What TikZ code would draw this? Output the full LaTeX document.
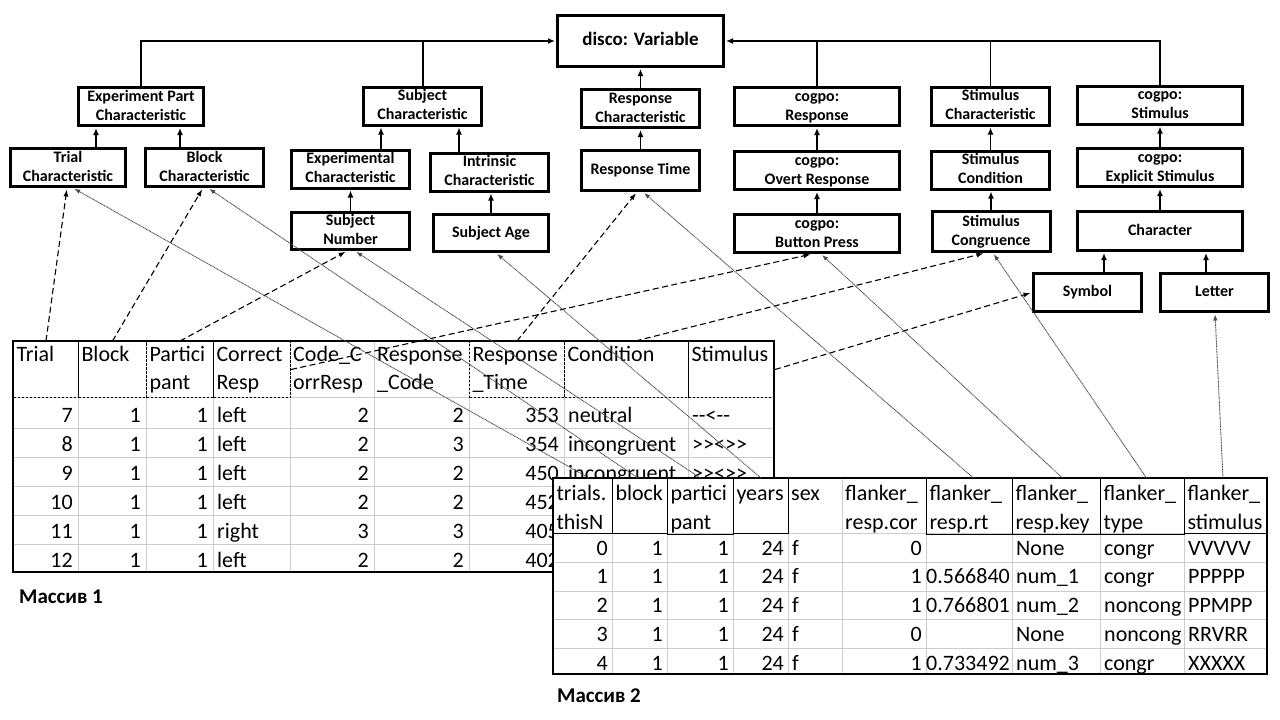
\documentclass[tikz,border=0pt]{standalone}
\usepackage{fontspec}
\newfontfamily\carl{Carlito}
\usetikzlibrary{arrows.meta,positioning}
\newcommand\strutA{\rule[-7pt]{0pt}{26pt}}
\newcommand\strutB{\rule[-3pt]{0pt}{24pt}}

\begin{document}
\begin{tikzpicture}
	[
		x=1pt, y=-1pt,
		C/.style = {rectangle, align=center, draw, line width=3pt, minimum height=38pt, inner sep=1pt, text height=31pt, text depth=4pt, font=\carl\bfseries\fontsize{16}{19}\selectfont},
		C1/.style = {C, text height=12pt},
		V/.style = {C, minimum width=166pt, minimum height=51pt, text height=14pt, text depth=5pt, font=\carl\bfseries\fontsize{19}{23}\selectfont},
		A/.style = {-{Latex[length=7pt,width=6pt]}, line width=1.8pt, shorten >=1pt},
		H/.style = {rectangle, anchor=north west, align=left, inner xsep=3pt, inner ysep=1pt, font=\carl\fontsize{22}{28}\selectfont},
		HD/.style = {H, draw, line width=1pt, dash pattern=on 2.5pt off 1.5pt},
		K/.style = {H, font=\carl\fontsize{22}{29}\selectfont},
		KD/.style = {K, draw, line width=1pt},
		R/.style = {anchor=base east, inner sep=0pt, font=\carl\fontsize{22}{28}\selectfont},
		W/.style = {R, anchor=base west},
		GL/.style = {line width=0.8pt, black!20},
		FR/.style = {line width=1.2pt},
		D/.style = {dash pattern=on 6pt off 3.5pt, line width=1.1pt, -{Latex[length=7pt,width=5pt]}, shorten >=1.5pt},
		O/.style = {dash pattern=on 1pt off 0.6pt, line width=0.9pt, black!70, -{Latex[length=6pt,width=4.5pt]}, shorten >=1.5pt},
		M/.style = {anchor=base west, inner sep=0pt, font=\carl\bfseries\fontsize{21}{25}\selectfont},
	]
	\useasboundingbox (0,0) rectangle (1280,720);

	% top variable
	\node[V] (var) 	at ( 640.5,  41.0) {disco: Variable};

	% second row
	\node[C, minimum width=125pt] (epc) 	at ( 141.0, 106.5) {Experiment Part\\Characteristic};
	\node[C, minimum width=118pt] (sbc) 	at ( 422.5, 106.0) {Subject\\Characteristic};
	\node[C, minimum width=118pt] (rsc) 	at ( 640.5, 108.5) {Response\\Characteristic};
	\node[C, minimum width=165pt] (rsp) 	at ( 817.0, 106.5) {cogpo:\\Response};
	\node[C, minimum width=118pt] (stc) 	at ( 990.5, 106.0) {Stimulus\\Characteristic};
	\node[C, minimum width=165pt] (stm) 	at (1160.0, 105.0) {cogpo:\\Stimulus};

	% third row
	\node[C, minimum width=115pt] (trc) 	at (  68.0, 167.5) {Trial\\Characteristic};
	\node[C, minimum width=118pt] (blc) 	at ( 204.5, 167.5) {Block\\Characteristic};
	\node[C, minimum width=118pt] (exc) 	at ( 350.5, 169.0) {Experimental\\Characteristic};
	\node[C, minimum width=118pt] (inc) 	at ( 489.5, 172.0) {Intrinsic\\Characteristic};
	\node[C1, minimum width=118pt, minimum height=40pt] (rst) 	at ( 640.5, 170.5) {Response Time};
	\node[C, minimum width=165pt] (ovr) 	at ( 817.0, 170.5) {cogpo:\\Overt Response};
	\node[C, minimum width=118pt] (scn) 	at ( 990.5, 170.0) {Stimulus\\Condition};
	\node[C, minimum width=165pt] (exs) 	at (1160.0, 167.5) {cogpo:\\Explicit Stimulus};

	% fourth row
	\node[C, minimum width=118pt, minimum height=37pt] (snm) 	at ( 350.5, 231.0) {Subject\\Number};
	\node[C1, minimum width=115pt, minimum height=37pt] (sag) 	at ( 491.0, 233.0) {Subject Age};
	\node[C, minimum width=165pt] (btn) 	at ( 817.0, 233.5) {cogpo:\\Button Press};
	\node[C, minimum width=118pt, minimum height=40pt] (scg) 	at ( 991.0, 231.5) {Stimulus\\Congruence};
	\node[C1, minimum width=165pt, minimum height=39pt] (chr) 	at (1160.0, 231.0) {Character};

	% fifth row
	\node[C1, minimum width=108pt] (sym) 	at (1087.5, 292.5) {Symbol};
	\node[C1, minimum width=108pt] (ltr) 	at (1214.5, 292.5) {Letter};

	% bus to the variable
	\draw[A, line width=2pt] (epc.north |- var.west) -- (var.west);
	\draw[A, line width=2pt] (stm.north |- var.east) -- (var.east);
	\foreach \n in {epc,sbc}
	\draw[line width=2pt, line cap=rect] (\n.north) -- (\n.north |- var.west);
	\foreach \n in {rsp,stc,stm}
	\draw[line width=1.2pt, line cap=rect] (\n.north) -- (\n.north |- var.east);

	% subclass arrows
	\foreach \from/\to in {rst/rsc,rsc/var,btn/ovr,ovr/rsp,scg/scn,scn/stc,chr/exs,exs/stm,snm/exc,sag/inc}
	\draw[A] (\from.north) -- (\from.north |- \to.south);
	\foreach \from/\to/\x in {trc/epc/96,blc/epc/180,exc/sbc/381,inc/sbc/459,sym/chr/1104,ltr/chr/1206}
	\draw[A] (\x,0 |- \from.north) -- (\x,0 |- \to.south);

	% first table
	\foreach \x in {78,146,213,290,374,469,564,688}
	\draw[GL] (\x,341) -- (\x,572);
	\foreach \y in {397,428,457,486,515,544}
	\draw[GL] (13,\y) -- (774,\y);
	\draw[FR] (13,341) rectangle (774,572);

	\node[HD, text width=59pt] (h1) 	at ( 13, 341) {\strutA Trial\\\strutA};
	\node[HD, text width=62pt] (h2) 	at ( 78, 341) {\strutA Block\\\strutA};
	\node[HD, text width=61pt] (h3) 	at (146, 341) {\strutA Partici\\\strutA pant};
	\node[HD, text width=71pt] (h4) 	at (213, 341) {\strutA Correct\\\strutA Resp};
	\node[H, text width=78pt] (h5) 	at (290, 341) {\strutA Code\_C\\\strutA orrResp};
	\node[H, text width=89pt] (h6) 	at (374, 341) {\strutA Response\\\strutA \_Code};
	\node[HD, text width=89pt] (h7) 	at (469, 341) {\strutA Response\\\strutA \_Time};
	\node[HD, text width=118pt] (h8) 	at (564, 341) {\strutA Condition\\\strutA};
	\node[HD, text width=80pt] (h9) 	at (688, 341) {\strutA Stimulus\\\strutA};

	\foreach \ta/\tb/\tc/\td/\te/\tf/\tg [count=\i] in {7/1/1/left/2/2/353,8/1/1/left/2/3/354,9/1/1/left/2/2/450,10/1/1/left/2/2/452,11/1/1/right/3/3/405,12/1/1/left/2/2/402}
	{
		\pgfmathsetmacro{\y}{393+29*\i}
		\node[R] (a\i-1) at ( 73,\y) {\ta};
		\node[R] (a\i-2) at (141,\y) {\tb};
		\node[R] (a\i-3) at (208,\y) {\tc};
		\node[W] (a\i-4) at (217,\y) {\td};
		\node[R] (a\i-5) at (369,\y) {\te};
		\node[R] (a\i-6) at (464,\y) {\tf};
		\node[R] (a\i-7) at (559,\y) {\tg};
	}
	\foreach \ti/\tk [count=\i] in {neutral/--<--,incongruent/>><>>,incongruent/>><>>}
	{
		\pgfmathsetmacro{\y}{393+29*\i}
		\node[W] (a\i-8) at (568,\y) {\ti};
		\node[W] (a\i-9) at (692,\y) {\tk};
	}

	% second table
	\fill[white] (553,478) rectangle (1267,674);
	\foreach \x in {612,667,733,788,842,926,1012,1100,1184}
	\draw[GL] (\x,478) -- (\x,674);
	\foreach \y in {533,562,591,619,648}
	\draw[GL] (553,\y) -- (1267,\y);
	\draw[FR] (553,478) rectangle (1267,674);

	\node[KD, text width=53pt] (k1) 	at ( 553, 478) {\strutB trials.\\\strutB thisN};
	\node[KD, text width=49pt] (k2) 	at ( 612, 478) {\strutB block\\\strutB};
	\node[KD, text width=60pt] (k3) 	at ( 667, 478) {\strutB partici\\\strutB pant};
	\node[KD, text width=49pt] (k4) 	at ( 733, 478) {\strutB years\\\strutB};
	\node[K, text width=48pt] (k5) 	at ( 788, 478) {\strutB sex\\\strutB};
	\node[K, text width=78pt] (k6) 	at ( 842, 478) {\strutB flanker\_\\\strutB resp.cor};
	\node[KD, text width=80pt] (k7) 	at ( 926, 478) {\strutB flanker\_\\\strutB resp.rt};
	\node[KD, text width=82pt] (k8) 	at (1012, 478) {\strutB flanker\_\\\strutB resp.key};
	\node[KD, text width=78pt] (k9) 	at (1100, 478) {\strutB flanker\_\\\strutB type};
	\node[KD, text width=77pt] (k10) 	at (1184, 478) {\strutB flanker\_\\\strutB stimulus};

	\foreach \ta/\tb/\tc/\td/\te/\tf/\tg/\ti/\tk [count=\i] in {0/1/1/24/f/0/None/congr/VVVVV,1/1/1/24/f/1/num\_1/congr/PPPPP,2/1/1/24/f/1/num\_2/noncong/PPMPP,3/1/1/24/f/0/None/noncong/RRVRR,4/1/1/24/f/1/num\_3/congr/XXXXX}
	{
		\pgfmathsetmacro{\y}{526.25+28.75*\i}
		\node[R] (b\i-1) at ( 608,\y) {\ta};
		\node[R] (b\i-2) at ( 663,\y) {\tb};
		\node[R] (b\i-3) at ( 729,\y) {\tc};
		\node[R] (b\i-4) at ( 784,\y) {\td};
		\node[W] (b\i-5) at ( 792,\y) {\te};
		\node[R] (b\i-6) at ( 922,\y) {\tf};
		\node[W] (b\i-8) at (1016,\y) {\tg};
		\node[W] (b\i-9) at (1104,\y) {\ti};
		\node[W] (b\i-10) at (1188,\y) {\tk};
	}
	\foreach \r/\tv in {2/0.566840,3/0.766801,5/0.733492}
	{
		\pgfmathsetmacro{\y}{526.25+28.75*\r}
		\node[R] (b\r-7) at (1010,\y) {\tv};
	}

	% captions
	\node[M] (m1) 	at ( 19, 603) {Массив 1};
	\node[M] (m2) 	at (557, 702) {Массив 2};

	% dashed links from the first table
	\draw[D] (h1.north) -- ([xshift=-1pt]trc.south);
	\draw[D] (h2.north) -- ([xshift=-1.5pt]blc.south);
	\draw[D] (h3.north) -- ([xshift=-3.5pt]snm.south);
	\draw[D] (h4.east) -- ([xshift=-5pt]btn.south);
	\draw[D] (h7.north) -- ([xshift=-3.5pt]rst.south);
	\draw[D] ([xshift=9pt]h8.north) -- ([xshift=-6pt]scg.south);
	\draw[D] (h9.east) -- (sym.west);

	% dotted links from the second table
	\draw[O] ([xshift=6pt]k1.north) -- ([xshift=5pt]trc.south);
	\draw[O] ([xshift=-2pt]k2.north) -- ([xshift=3.5pt]blc.south);
	\draw[O] (k3.north) -- ([xshift=4.5pt]snm.south);
	\draw[O] (k4.north) -- ([xshift=5pt]sag.south);
	\draw[O] ([xshift=4pt]k7.north) -- ([xshift=2.5pt]rst.south);
	\draw[O] ([xshift=6pt]k8.north) -- ([xshift=4pt]btn.south);
	\draw[O] ([xshift=4pt]k9.north) -- ([xshift=2pt]scg.south);
	\draw[O] ([xshift=-3pt]k10.north) -- ([xshift=0.5pt]ltr.south);

\end{tikzpicture}
\end{document}
